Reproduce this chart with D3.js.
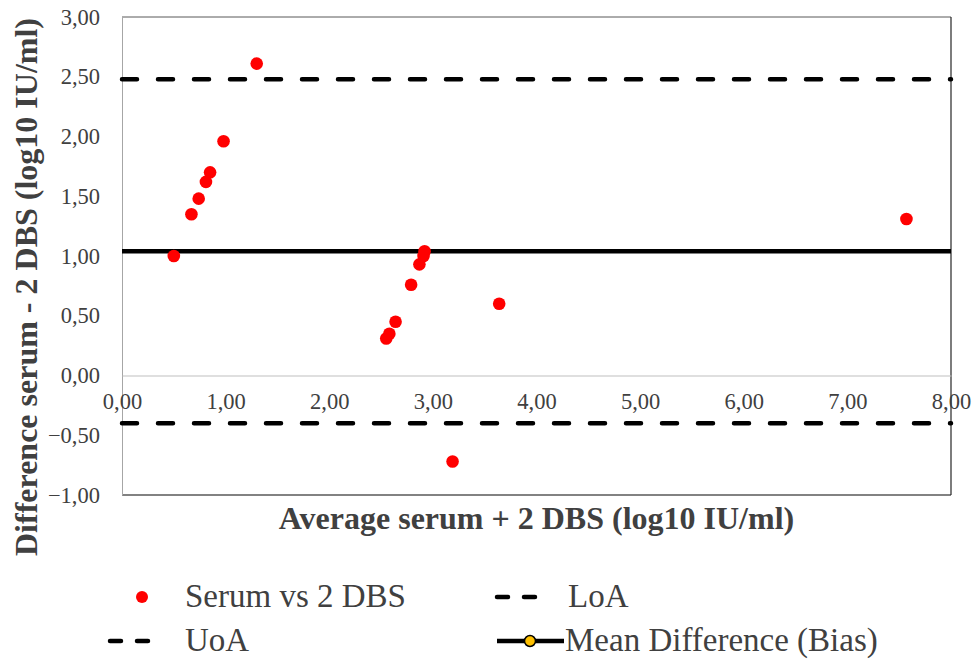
<!DOCTYPE html>
<meta charset="utf-8">
<head>
<style>
  body { margin: 0; background: #fff; }
  svg text { font-family: "Liberation Serif", "Times New Roman", serif !important; }
</style>
</head>
<script src="https://d3js.org/d3.v7.min.js"></script>
<body>
<div id="my_dataviz"></div>
<script>
// Bland-Altman data: average (x) vs difference (y), log10 IU/ml
var avgValues  = [1.30, 0.98, 0.85, 0.81, 0.74, 0.67, 0.50, 2.92, 2.91, 2.87, 2.79, 2.64, 2.58, 2.55, 3.64, 3.19, 7.57];
var diffValues = [2.61, 1.96, 1.70, 1.62, 1.48, 1.35, 1.00, 1.04, 1.00, 0.93, 0.76, 0.45, 0.35, 0.31, 0.60, -0.72, 1.31];

// reference lines
var meanDiff = 1.04;
var upperLoA = 2.48;
var lowerLoA = -0.40;

var xTicks = [0, 1, 2, 3, 4, 5, 6, 7, 8];
var yTicks = [-1, -0.5, 0, 0.5, 1, 1.5, 2, 2.5, 3];

var legendLabels = ["Serum vs 2 DBS", "LoA", "UoA", "Mean Difference (Bias)"];

// set the dimensions and margins of the graph
var W = 977, H = 662;
var margin = {top: 17, right: 26, bottom: 167, left: 122},
    width = W - margin.left - margin.right,
    height = H - margin.top - margin.bottom;

var fmt = function(v) { return d3.format(".2f")(v).replace(".", ","); };

var svg = d3.select("#my_dataviz")
  .append("svg")
    .attr("width", W)
    .attr("height", H);

var g = svg.append("g")
    .attr("transform", "translate(" + margin.left + "," + margin.top + ")");

var x = d3.scaleLinear().domain([0, 8]).range([0, width]);
var y = d3.scaleLinear().domain([-1, 3]).range([height, 0]);

// plot frame
g.append("line").attr("x1", 0).attr("x2", width).attr("y1", 0).attr("y2", 0)
  .attr("stroke", "#595959").attr("stroke-width", 1);
g.append("line").attr("x1", 0).attr("x2", width).attr("y1", height).attr("y2", height)
  .attr("stroke", "#595959").attr("stroke-width", 1.5);
g.append("line").attr("x1", width).attr("x2", width).attr("y1", 0).attr("y2", height)
  .attr("stroke", "#262626").attr("stroke-width", 1.2);

// Y axis (no tick marks, labels only)
var yAxis = g.append("g")
  .call(d3.axisLeft(y).tickValues(yTicks).tickFormat(fmt).tickSize(0).tickPadding(22));
yAxis.attr("font-family", null);
yAxis.select(".domain").attr("stroke", "#a6a6a6");
yAxis.selectAll("text")
  .attr("font-size", 22.5)
  .attr("fill", "#404040");

// X axis crosses at y = 0
var xAxis = g.append("g")
  .attr("transform", "translate(0," + y(0) + ")")
  .call(d3.axisBottom(x).tickValues(xTicks).tickFormat(fmt).tickSize(0).tickPadding(18));
xAxis.attr("font-family", null);
xAxis.select(".domain").attr("stroke", "#bfbfbf");
xAxis.selectAll("text")
  .attr("font-size", 22.5)
  .attr("fill", "#404040");

// limits of agreement (dashed) and bias (solid)
[upperLoA, lowerLoA].forEach(function(v) {
  g.append("line")
    .attr("x1", 0).attr("x2", width)
    .attr("y1", y(v)).attr("y2", y(v))
    .attr("stroke", "#000")
    .attr("stroke-width", 4.5)
    .attr("stroke-linecap", "round")
    .attr("stroke-dasharray", "15,21");
});
g.append("line")
  .attr("x1", 0).attr("x2", width)
  .attr("y1", y(meanDiff)).attr("y2", y(meanDiff))
  .attr("stroke", "#000")
  .attr("stroke-width", 4.5);

// points
var pts = avgValues.map(function(d, i) { return {a: d, b: diffValues[i]}; });
g.selectAll(".dot")
  .data(pts)
  .enter()
  .append("circle")
    .attr("class", "dot")
    .attr("cx", function(d) { return x(d.a); })
    .attr("cy", function(d) { return y(d.b); })
    .attr("r", 6.3)
    .style("fill", "#ff0000");

// axis titles
svg.append("text")
  .attr("x", margin.left + width / 2)
  .attr("y", 529)
  .attr("text-anchor", "middle")
  .attr("font-size", 32)
  .attr("font-weight", "bold")
  .attr("fill", "#404040")
  .text("Average serum + 2 DBS (log10 IU/ml)");

svg.append("text")
  .attr("transform", "translate(37,287) rotate(-90)")
  .attr("text-anchor", "middle")
  .attr("font-size", 32)
  .attr("font-weight", "bold")
  .attr("fill", "#404040")
  .text("Difference serum - 2 DBS (log10 IU/ml)");

// legend
var leg = svg.append("g");
var legFont = 33;
// row 1
leg.append("circle").attr("cx", 142).attr("cy", 597).attr("r", 6).attr("fill", "#ff0000");
leg.append("text").attr("x", 185).attr("y", 607).attr("font-size", legFont).attr("fill", "#404040").text(legendLabels[0]);
leg.append("line").attr("x1", 497).attr("x2", 535).attr("y1", 597).attr("y2", 597)
  .attr("stroke", "#000").attr("stroke-width", 4.5).attr("stroke-linecap", "round").attr("stroke-dasharray", "11,16");
leg.append("text").attr("x", 568).attr("y", 607).attr("font-size", legFont).attr("fill", "#404040").text(legendLabels[1]);
// row 2
leg.append("line").attr("x1", 110).attr("x2", 148).attr("y1", 641).attr("y2", 641)
  .attr("stroke", "#000").attr("stroke-width", 4.5).attr("stroke-linecap", "round").attr("stroke-dasharray", "11,16");
leg.append("text").attr("x", 185).attr("y", 651).attr("font-size", legFont).attr("fill", "#404040").text(legendLabels[2]);
leg.append("line").attr("x1", 497).attr("x2", 564).attr("y1", 641).attr("y2", 641)
  .attr("stroke", "#000").attr("stroke-width", 4.5);
leg.append("circle").attr("cx", 530).attr("cy", 641).attr("r", 5.5)
  .attr("fill", "#ffc000").attr("stroke", "#000").attr("stroke-width", 1.5);
leg.append("text").attr("x", 565).attr("y", 651).attr("font-size", legFont).attr("fill", "#404040").text(legendLabels[3]);
</script>
</body>
